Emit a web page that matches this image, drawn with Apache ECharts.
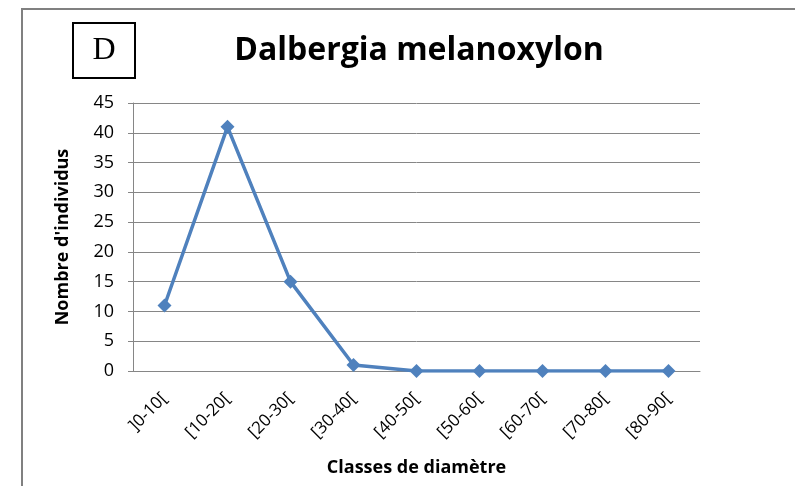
<!DOCTYPE html>
<html>
<head>
<meta charset="utf-8">
<script src="https://cdn.jsdelivr.net/npm/echarts@6/dist/echarts.min.js"></script>
<style>
  html, body { margin: 0; padding: 0; background: #fff; }
  #chart { width: 795px; height: 486px; }
</style>
</head>
<body>
<div id="chart"></div>
<script>
// Diameter classes and the number of trees counted in each
const categories = [']0-10[', '[10-20[', '[20-30[', '[30-40[', '[40-50[', '[50-60[', '[60-70[', '[70-80[', '[80-90['];
const individus = [11, 41, 15, 1, 0, 0, 0, 0, 0];
const titleText = 'Dalbergia melanoxylon';
const panelLetter = 'D';
const xName = 'Classes de diamètre';
const yName = "Nombre d'individus";

const font = '"Open Sans", "Liberation Sans", sans-serif';
const chart = echarts.init(document.getElementById('chart'));

chart.setOption({
  animation: false,
  backgroundColor: '#ffffff',
  title: {
    text: titleText,
    left: 414,
    top: 30,
    textAlign: 'center',
    textStyle: { fontFamily: font, fontWeight: 'bold', fontSize: 32, color: '#000' }
  },
  grid: { left: 133, right: 95, top: 103, bottom: 115, containLabel: false },
  xAxis: {
    type: 'category',
    data: categories,
    boundaryGap: true,
    name: xName,
    nameLocation: 'middle',
    nameGap: 88,
    nameTextStyle: { fontFamily: font, fontWeight: 'bold', fontSize: 18, color: '#000' },
    axisLine: { lineStyle: { color: '#868686', width: 1 } },
    axisTick: { show: false },
    axisLabel: { rotate: 45, fontFamily: font, fontSize: 17, color: '#000', margin: 25, interval: 0 }
  },
  yAxis: {
    type: 'value',
    min: 0,
    max: 45,
    interval: 5,
    name: yName,
    nameLocation: 'middle',
    nameGap: 61,
    nameTextStyle: { fontFamily: font, fontWeight: 'bold', fontSize: 18, color: '#000' },
    axisLine: { show: true, lineStyle: { color: '#868686', width: 1 } },
    axisTick: { show: true, inside: false, length: 5, lineStyle: { color: '#868686' } },
    axisLabel: { fontFamily: font, fontSize: 18, color: '#000', margin: 19 },
    splitLine: { lineStyle: { color: '#868686', width: 1 } }
  },
  series: [{
    type: 'line',
    data: individus,
    symbol: 'diamond',
    symbolSize: 14,
    lineStyle: { color: '#4F81BD', width: 3.5 },
    itemStyle: { color: '#4F81BD' }
  }],
  graphic: [
    {
      type: 'rect',
      shape: { x: 22, y: 9, width: 800, height: 500 },
      style: { fill: 'none', stroke: '#808080', lineWidth: 2 },
      silent: true
    },
    {
      type: 'rect',
      shape: { x: 73, y: 23, width: 62, height: 55 },
      style: { fill: '#fff', stroke: '#000', lineWidth: 2 },
      silent: true
    },
    {
      type: 'text',
      x: 104,
      y: 51,
      style: {
        text: panelLetter,
        fontFamily: '"Liberation Serif", "Times New Roman", serif',
        fontSize: 32,
        fill: '#000',
        align: 'center',
        verticalAlign: 'middle'
      }
    }
  ]
});
</script>
</body>
</html>
